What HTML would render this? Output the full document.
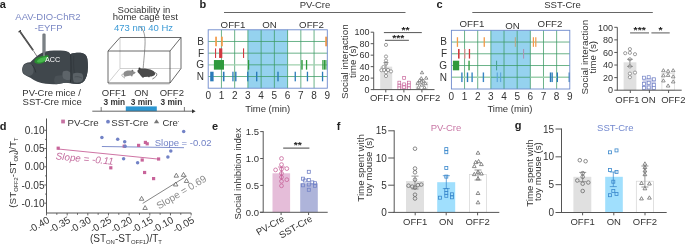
<!DOCTYPE html><html><head><meta charset="utf-8"><style>html,body{margin:0;padding:0;background:#fff;}svg{display:block;will-change:transform;}</style></head><body><svg xmlns="http://www.w3.org/2000/svg" width="685" height="245" viewBox="0 0 685 245" font-family='"Liberation Sans", sans-serif'>
<rect x="0" y="0" width="685" height="245" fill="#ffffff" />
<text x="-0.3" y="7.7" font-size="11" text-anchor="start" fill="#222" font-weight="bold" >a</text>
<text x="48" y="20.3" font-size="9.5" text-anchor="middle" fill="#7b88c4" font-weight="normal" >AAV-DIO-ChR2</text>
<text x="48.5" y="31.3" font-size="9.5" text-anchor="middle" fill="#7b88c4" font-weight="normal" >-EYFP</text>
<line x1="19.6" y1="31.1" x2="33.1" y2="50.3" stroke="#3a3a3a" stroke-width="1.7" />
<line x1="19.6" y1="31.1" x2="33.1" y2="50.3" stroke="#9a9a9a" stroke-width="0.7" stroke-dasharray="0.7 0.7"/>
<line x1="33.1" y1="50.3" x2="36.8" y2="56.1" stroke="#333" stroke-width="0.6" />
<line x1="18.4" y1="31.9" x2="20.8" y2="30.3" stroke="#222" stroke-width="1.0" />
<path d="M22.1,69.5 C22.3,66.5 23.5,64.2 25.2,63.4 C27,62.6 28.8,62.2 30.3,62.3 C31.5,61 33,59.5 34.4,58.3 C36,56.6 37.8,55.2 39.5,54.2 C41.5,52.9 43.5,52 45.6,51.5 C48.5,50.8 51,50.5 53.8,50.5 C57.5,50.4 61,50.5 64,50.7 C66,50.9 67.5,51.4 68.5,52.1 C69.4,52.8 70,53.5 70.5,54.2 C71.5,53.6 72.3,53.3 73.2,53.2 C75.5,52.9 78,52.8 80.3,52.8 C82.5,53 84.2,53.8 85.4,54.8 C86.5,56 87.1,57.6 87.4,59.3 C87.8,62 87.9,64.7 87.9,67.4 C87.8,70.2 87.4,73 86.8,75.6 C86.2,77.6 85.4,79.3 84.4,80.7 C83.2,82 81.8,82.9 80.3,83.4 C78.3,83.9 76.2,84 74.2,83.8 C71.5,83.4 68.8,82.9 66,82.8 C62.5,82.9 59.2,84.1 55.8,84.2 C52.4,84.3 49,84.2 45.6,83.8 C42.8,83.4 40,82.7 37.4,81.7 C35,80.6 32.6,79.2 30.3,77.7 C28.2,76.7 26,75.8 24.2,74.6 C22.9,73.6 22.1,72.2 22.1,69.5 Z" fill="#40474c"/>
<path d="M22.6,69.3 C22.8,66.6 24,64.6 25.6,63.9 C28,63 30.6,63.4 32,65.2 C33.5,67.5 34,70.5 33.2,73 C32.3,75.2 30,76.2 27.5,75.8 C25,75.2 22.8,73 22.6,69.3 Z" fill="#545b60"/>
<path d="M32.2,64.8 C34,67 35.2,69.5 35.8,72.5" fill="none" stroke="#2b3034" stroke-width="0.8"/>
<path d="M55.8,76 C60,75 65,75.2 69.8,76.5 L70.2,82.8 C68.8,82.9 67.4,82.8 66,82.8 C62.5,82.9 59.2,84.1 55.8,84.2 C53.5,82 53.8,78 55.8,76 Z" fill="#4a5156"/>
<path d="M70.5,54.2 C71.5,53.6 72.3,53.3 73.2,53.2 C75.5,52.9 78,52.8 80.3,52.8 C82.5,53 84.2,53.8 85.4,54.8 C86.5,56 87.1,57.6 87.4,59.3 C87.8,62 87.9,64.7 87.9,67.4 C87.8,70.2 87.4,73 86.8,75.6 C86.2,77.6 85.4,79.3 84.4,80.7 C83.2,82 81.8,82.9 80.3,83.4 C78.3,83.9 76.2,84 74.2,83.8 C72.6,83.6 71.4,83.2 70.2,82.9 C70.8,73 70.8,63 70.5,54.2 Z" fill="#3b4247"/>
<path d="M70.6,54.5 C71.2,63 71.2,73 70.4,82.6" fill="none" stroke="#2a3034" stroke-width="0.9"/>
<path d="M73.8,56 C73.4,62 73.6,68 74.4,73" fill="none" stroke="#30363a" stroke-width="0.6"/>
<path d="M73.2,73.5 C75.5,72.3 79,72.4 82,73.5 C83.6,75.5 83.5,78.5 82.3,81 C80,82.8 76.5,83 74,82.2 C72.8,79.8 72.6,76.3 73.2,73.5 Z" fill="#5a6166"/>
<path d="M74.5,77 C77,76.2 80,76.8 82,78.2" fill="none" stroke="#40474b" stroke-width="0.6"/>
<path d="M63,71.5 C65.5,70.2 68.8,70.6 70.2,72.5 L70.3,79.5 C68,80.5 65,80 63.2,78.2 C62.2,76 62.2,73.5 63,71.5 Z" fill="#5d6469"/>
<path d="M34.4,62.3 C34.4,60.8 34.8,59.8 35.4,58.9 C37.2,57.4 39.3,56.6 41.5,56.2 C43.6,55.7 45.6,55.2 47.7,55.2 C48.5,55.6 48.8,56.4 48.7,57.2 C48.2,59 47,60.4 45.6,61.3 C43.7,62.6 41.6,63.5 39.5,63.8 C37.6,63.9 35.8,63.4 34.4,62.3 Z" fill="#2b8d31"/>
<path d="M36.8,61.6 C37.6,59.6 39.6,58.4 42,57.7 C44,57.1 46,56.8 47.2,57.1 C47.2,58.6 46,59.9 44.4,60.9 C42.4,62 40.2,62.6 38.6,62.6 C37.8,62.5 37.2,62.2 36.8,61.6 Z" fill="#45b84b"/>
<rect x="42.4" y="33.4" width="3.2" height="20" rx="1.3" fill="#6c7277"/>
<rect x="43.5" y="34.5" width="1.0" height="18" fill="#878d92" />
<rect x="43.4" y="53.2" width="1.2" height="3" fill="#9aa0a5" />
<text x="45" y="61.7" font-size="7.2" text-anchor="start" fill="#ffffff" font-weight="normal" >ACC</text>
<text x="22.3" y="96.2" font-size="9.5" text-anchor="start" fill="#333333" font-weight="normal" >PV-Cre mice /</text>
<text x="22.6" y="104.5" font-size="9.5" text-anchor="start" fill="#333333" font-weight="normal" >SST-Cre mice</text>
<text x="144" y="12.7" font-size="9.5" text-anchor="middle" fill="#333333" font-weight="normal" >Sociability in</text>
<text x="145.3" y="20.4" font-size="9.5" text-anchor="middle" fill="#333333" font-weight="normal" >home cage test</text>
<text x="143.5" y="30.7" font-size="9.5" text-anchor="middle" fill="#3b9ad6" font-weight="normal" >473 nm 40 Hz</text>
<line x1="120" y1="37.5" x2="120" y2="68.5" stroke="#bbbbbb" stroke-width="0.7" />
<line x1="120" y1="68.5" x2="181" y2="68.5" stroke="#bbbbbb" stroke-width="0.7" />
<line x1="120" y1="68.5" x2="108" y2="83" stroke="#bbbbbb" stroke-width="0.7" />
<line x1="108.5" y1="84.3" x2="169.5" y2="84.3" stroke="#e2e2e2" stroke-width="1.4" />
<path d="M108,51 L120,37.5 L181,37.5 L181,68.5 L170,83 L108,83 Z" fill="none" stroke="#444444" stroke-width="0.8"/>
<path d="M108,51 L170,51 L181,37.5 M170,51 L170,83" fill="none" stroke="#444444" stroke-width="0.8"/>
<path d="M139.5,26.5 C144,29 145.5,36 145,45 C144.5,55 143.6,62 143.2,68.2" fill="none" stroke="#555" stroke-width="0.6"/>
<path d="M123.5,74.5 C123,72 125.5,70.4 129,70.4 C131,70.3 132.5,70.6 133.5,71.2 L135.8,72.5 C135,73.5 134,74 133,74.5 L132.2,76.6 L131.3,76.2 L130.6,75.5 C129,76 127,76 125.5,76.5 L124.6,77.2 L124.3,76 C123.8,75.6 123.5,75 123.5,74.5 Z" fill="#8c8c8c"/>
<path d="M123.6,74 C121.6,73.6 121.4,75.8 122.6,76.5 C123.6,77.1 124.4,77.6 125,78.2" fill="none" stroke="#8c8c8c" stroke-width="0.7"/>
<circle cx="132.4" cy="70.6" r="0.9" fill="#6e6e6e"/>
<path d="M137.5,70.5 C138.5,68.8 140,68.2 142,68.5 C146,68.5 150,69 152.5,70.5 C154.5,71.5 155.5,73 155,74.5 C154,76 152,76.5 150,76.5 L149,77.6 L148,76.8 L144,77 L143,77.9 L142,77 C140.5,75.5 139.5,74 138.5,73 C137.8,72.2 137.2,71.5 137.5,70.5 Z" fill="#4a4a4a"/>
<path d="M154.6,72.8 C156.8,72.4 157.4,74.6 156.3,76 C155.3,77.4 153.6,78.2 152.4,79" fill="none" stroke="#4a4a4a" stroke-width="0.7"/>
<circle cx="139.5" cy="68.6" r="1" fill="#333"/>
<text x="113.9" y="96.2" font-size="9.5" text-anchor="middle" fill="#333333" font-weight="normal" >OFF1</text>
<text x="141.3" y="96.2" font-size="9.5" text-anchor="middle" fill="#333333" font-weight="normal" >ON</text>
<text x="171.8" y="96.2" font-size="9.5" text-anchor="middle" fill="#333333" font-weight="normal" >OFF2</text>
<text x="114.35" y="105.2" font-size="8.3" text-anchor="middle" fill="#333333" font-weight="bold" >3 min</text>
<text x="141.6" y="105.2" font-size="8.3" text-anchor="middle" fill="#333333" font-weight="bold" >3 min</text>
<text x="171.4" y="105.2" font-size="8.3" text-anchor="middle" fill="#333333" font-weight="bold" >3 min</text>
<rect x="125.8" y="106.4" width="31" height="4.8" fill="#2b96d1" />
<line x1="92.3" y1="111.2" x2="193" y2="111.2" stroke="#555" stroke-width="0.9" />
<path d="M192,109.2 L195.6,111.2 L192,113.2 Z" fill="#333"/>
<line x1="101.2" y1="107" x2="101.2" y2="111.2" stroke="#555" stroke-width="0.8" />
<line x1="184.4" y1="107" x2="184.4" y2="111.2" stroke="#555" stroke-width="0.8" />
<text x="199.5" y="7.9" font-size="11" text-anchor="start" fill="#222" font-weight="bold" >b</text>
<line x1="224" y1="12.5" x2="405.5" y2="12.5" stroke="#666" stroke-width="1" />
<text x="315" y="7.9" font-size="9.5" text-anchor="middle" fill="#333333" font-weight="normal" >PV-Cre</text>
<rect x="247.9" y="29.8" width="39.70000000000002" height="58.400000000000006" fill="#95d2ef" />
<line x1="221.43333333333334" y1="29.8" x2="221.43333333333334" y2="88.2" stroke="#3a9a62" stroke-width="0.75" />
<line x1="234.66666666666666" y1="29.8" x2="234.66666666666666" y2="88.2" stroke="#3a9a62" stroke-width="0.75" />
<line x1="247.9" y1="29.8" x2="247.9" y2="88.2" stroke="#3a9a62" stroke-width="0.75" />
<line x1="261.1333333333333" y1="29.8" x2="261.1333333333333" y2="88.2" stroke="#3a9a62" stroke-width="0.75" />
<line x1="274.3666666666667" y1="29.8" x2="274.3666666666667" y2="88.2" stroke="#3a9a62" stroke-width="0.75" />
<line x1="287.6" y1="29.8" x2="287.6" y2="88.2" stroke="#3a9a62" stroke-width="0.75" />
<line x1="300.83333333333337" y1="29.8" x2="300.83333333333337" y2="88.2" stroke="#3a9a62" stroke-width="0.75" />
<line x1="314.06666666666666" y1="29.8" x2="314.06666666666666" y2="88.2" stroke="#3a9a62" stroke-width="0.75" />
<line x1="208.2" y1="41.480000000000004" x2="327.3" y2="41.480000000000004" stroke="#3a9a62" stroke-width="0.75" />
<line x1="208.2" y1="53.160000000000004" x2="327.3" y2="53.160000000000004" stroke="#3a9a62" stroke-width="0.75" />
<line x1="208.2" y1="64.84" x2="247.9" y2="64.84" stroke="#9fd0ad" stroke-width="1.4" />
<line x1="287.6" y1="64.84" x2="327.3" y2="64.84" stroke="#9fd0ad" stroke-width="1.4" />
<line x1="247.9" y1="64.84" x2="287.6" y2="64.84" stroke="#3a9a62" stroke-width="0.75" />
<line x1="208.2" y1="76.52000000000001" x2="327.3" y2="76.52000000000001" stroke="#3a9a62" stroke-width="0.75" />
<rect x="215.2" y="36.68000000000001" width="1.7" height="9.6" fill="#f39a48" />
<rect x="221.1" y="36.68000000000001" width="1.7" height="9.6" fill="#f39a48" />
<rect x="325.2" y="36.68000000000001" width="2.0" height="9.6" fill="#f39a48" />
<rect x="215.0" y="48.36000000000001" width="1.1" height="9.6" fill="#d13a40" />
<rect x="219.1" y="48.36000000000001" width="3.2" height="9.6" fill="#d13a40" />
<rect x="243.0" y="48.36000000000001" width="1.1" height="9.6" fill="#d13a40" />
<rect x="213.9" y="60.040000000000006" width="10.1" height="9.6" fill="#2e9a3c" />
<rect x="248.0" y="60.040000000000006" width="1.2" height="9.6" fill="#2e9a3c" />
<rect x="301.3" y="60.040000000000006" width="1.4" height="9.6" fill="#2e9a3c" />
<rect x="305.9" y="60.040000000000006" width="1.3" height="9.6" fill="#2e9a3c" />
<rect x="322.3" y="60.040000000000006" width="1.2" height="9.6" fill="#2e9a3c" />
<rect x="323.8" y="60.040000000000006" width="1.2" height="9.6" fill="#2e9a3c" />
<rect x="325.3" y="60.040000000000006" width="1.2" height="9.6" fill="#2e9a3c" />
<rect x="210.2" y="71.72000000000001" width="3.4" height="9.6" fill="#2a7bb9" />
<rect x="222.9" y="71.72000000000001" width="1.6" height="9.6" fill="#2a7bb9" />
<rect x="232.3" y="71.72000000000001" width="1.3" height="9.6" fill="#2a7bb9" />
<rect x="235.1" y="71.72000000000001" width="1.4" height="9.6" fill="#2a7bb9" />
<rect x="247.1" y="71.72000000000001" width="1.3" height="9.6" fill="#2a7bb9" />
<rect x="256.0" y="71.72000000000001" width="1.4" height="9.6" fill="#2a7bb9" />
<rect x="277.3" y="71.72000000000001" width="1.4" height="9.6" fill="#2a7bb9" />
<rect x="294.6" y="71.72000000000001" width="1.3" height="9.6" fill="#2a7bb9" />
<rect x="306.8" y="71.72000000000001" width="1.3" height="9.6" fill="#2a7bb9" />
<rect x="321.9" y="71.72000000000001" width="1.3" height="9.6" fill="#2a7bb9" />
<rect x="208.2" y="29.8" width="119.10000000000002" height="58.400000000000006" fill="none" stroke="#6d89cc" stroke-width="0.9"/>
<text x="204" y="44.88" font-size="10" text-anchor="end" fill="#333333" font-weight="normal" >B</text>
<text x="204" y="56.56" font-size="10" text-anchor="end" fill="#333333" font-weight="normal" >F</text>
<text x="204" y="68.24000000000001" font-size="10" text-anchor="end" fill="#333333" font-weight="normal" >G</text>
<text x="204" y="79.92000000000002" font-size="10" text-anchor="end" fill="#333333" font-weight="normal" >N</text>
<text x="208.2" y="98.8" font-size="10" text-anchor="middle" fill="#333333" font-weight="normal" >0</text>
<text x="221.43333333333334" y="98.8" font-size="10" text-anchor="middle" fill="#333333" font-weight="normal" >1</text>
<text x="234.66666666666666" y="98.8" font-size="10" text-anchor="middle" fill="#333333" font-weight="normal" >2</text>
<text x="247.9" y="98.8" font-size="10" text-anchor="middle" fill="#333333" font-weight="normal" >3</text>
<text x="261.1333333333333" y="98.8" font-size="10" text-anchor="middle" fill="#333333" font-weight="normal" >4</text>
<text x="274.3666666666667" y="98.8" font-size="10" text-anchor="middle" fill="#333333" font-weight="normal" >5</text>
<text x="287.6" y="98.8" font-size="10" text-anchor="middle" fill="#333333" font-weight="normal" >6</text>
<text x="300.83333333333337" y="98.8" font-size="10" text-anchor="middle" fill="#333333" font-weight="normal" >7</text>
<text x="314.06666666666666" y="98.8" font-size="10" text-anchor="middle" fill="#333333" font-weight="normal" >8</text>
<text x="327.3" y="98.8" font-size="10" text-anchor="middle" fill="#333333" font-weight="normal" >9</text>
<text x="233" y="27.7" font-size="9.7" text-anchor="middle" fill="#333333" font-weight="normal" >OFF1</text>
<text x="269.4" y="27.7" font-size="9.7" text-anchor="middle" fill="#333333" font-weight="normal" >ON</text>
<text x="311.5" y="27.7" font-size="9.7" text-anchor="middle" fill="#333333" font-weight="normal" >OFF2</text>
<text x="267.75" y="111.8" font-size="9.5" text-anchor="middle" fill="#333333" font-weight="normal" >Time (min)</text>
<text x="436.4" y="8.0" font-size="11" text-anchor="start" fill="#222" font-weight="bold" >c</text>
<line x1="472.3" y1="12.5" x2="652.8" y2="12.5" stroke="#666" stroke-width="1" />
<text x="562.5" y="7.9" font-size="9.5" text-anchor="middle" fill="#333333" font-weight="normal" >SST-Cre</text>
<rect x="490.8666666666666" y="30.3" width="39.46666666666664" height="58.7" fill="#95d2ef" />
<line x1="464.55555555555554" y1="30.3" x2="464.55555555555554" y2="89.0" stroke="#3a9a62" stroke-width="0.75" />
<line x1="477.7111111111111" y1="30.3" x2="477.7111111111111" y2="89.0" stroke="#3a9a62" stroke-width="0.75" />
<line x1="490.8666666666666" y1="30.3" x2="490.8666666666666" y2="89.0" stroke="#3a9a62" stroke-width="0.75" />
<line x1="504.0222222222222" y1="30.3" x2="504.0222222222222" y2="89.0" stroke="#3a9a62" stroke-width="0.75" />
<line x1="517.1777777777777" y1="30.3" x2="517.1777777777777" y2="89.0" stroke="#3a9a62" stroke-width="0.75" />
<line x1="530.3333333333333" y1="30.3" x2="530.3333333333333" y2="89.0" stroke="#3a9a62" stroke-width="0.75" />
<line x1="543.4888888888888" y1="30.3" x2="543.4888888888888" y2="89.0" stroke="#3a9a62" stroke-width="0.75" />
<line x1="556.6444444444444" y1="30.3" x2="556.6444444444444" y2="89.0" stroke="#3a9a62" stroke-width="0.75" />
<line x1="451.4" y1="42.04" x2="569.8" y2="42.04" stroke="#3a9a62" stroke-width="0.75" />
<line x1="451.4" y1="53.78" x2="569.8" y2="53.78" stroke="#3a9a62" stroke-width="0.75" />
<line x1="451.4" y1="65.52000000000001" x2="569.8" y2="65.52000000000001" stroke="#3a9a62" stroke-width="0.75" />
<line x1="451.4" y1="77.26" x2="490.8666666666666" y2="77.26" stroke="#9fd0ad" stroke-width="1.4" />
<line x1="530.3333333333333" y1="77.26" x2="569.8" y2="77.26" stroke="#9fd0ad" stroke-width="1.4" />
<line x1="490.8666666666666" y1="77.26" x2="530.3333333333333" y2="77.26" stroke="#3a9a62" stroke-width="0.75" />
<rect x="456.8" y="37.24" width="1.3" height="9.6" fill="#f39a48" />
<rect x="483.6" y="37.24" width="1.3" height="9.6" fill="#f39a48" />
<rect x="514.8" y="37.24" width="1.1" height="9.6" fill="#b8a888" />
<rect x="532.8" y="37.24" width="1.2" height="9.6" fill="#f39a48" />
<rect x="535.2" y="37.24" width="1.2" height="9.6" fill="#f39a48" />
<rect x="458.0" y="48.980000000000004" width="1.6" height="9.6" fill="#d13a40" />
<rect x="464.2" y="48.980000000000004" width="1.2" height="9.6" fill="#e0888c" />
<rect x="468.8" y="48.980000000000004" width="1.3" height="9.6" fill="#d13a40" />
<rect x="523.0" y="48.980000000000004" width="1.1" height="9.6" fill="#a994b4" />
<rect x="452.9" y="60.72000000000001" width="6.3" height="9.6" fill="#2e9a3c" />
<rect x="468.4" y="60.72000000000001" width="1.3" height="9.6" fill="#2e9a3c" />
<rect x="496.0" y="60.72000000000001" width="1.1" height="9.6" fill="#4aa396" />
<rect x="461.2" y="72.46000000000001" width="1.4" height="9.6" fill="#3a86c4" />
<rect x="466.8" y="72.46000000000001" width="1.4" height="9.6" fill="#2a7bb9" />
<rect x="471.4" y="72.46000000000001" width="1.4" height="9.6" fill="#3a86c4" />
<rect x="482.7" y="72.46000000000001" width="1.4" height="9.6" fill="#3a86c4" />
<rect x="496.7" y="72.46000000000001" width="1.1" height="9.6" fill="#5aa5d8" />
<rect x="500.1" y="72.46000000000001" width="1.1" height="9.6" fill="#5aa5d8" />
<rect x="549.8" y="72.46000000000001" width="1.4" height="9.6" fill="#2a7bb9" />
<rect x="551.5" y="72.46000000000001" width="1.3" height="9.6" fill="#2a7bb9" />
<rect x="556.7" y="72.46000000000001" width="1.3" height="9.6" fill="#2a7bb9" />
<rect x="568.6" y="72.46000000000001" width="1.2" height="9.6" fill="#2a7bb9" />
<rect x="451.4" y="30.3" width="118.39999999999998" height="58.7" fill="none" stroke="#6d89cc" stroke-width="0.9"/>
<text x="447" y="45.44" font-size="10" text-anchor="end" fill="#333333" font-weight="normal" >B</text>
<text x="447" y="57.18" font-size="10" text-anchor="end" fill="#333333" font-weight="normal" >F</text>
<text x="447" y="68.92000000000002" font-size="10" text-anchor="end" fill="#333333" font-weight="normal" >G</text>
<text x="447" y="80.66000000000001" font-size="10" text-anchor="end" fill="#333333" font-weight="normal" >N</text>
<text x="451.4" y="99.6" font-size="10" text-anchor="middle" fill="#333333" font-weight="normal" >0</text>
<text x="464.55555555555554" y="99.6" font-size="10" text-anchor="middle" fill="#333333" font-weight="normal" >1</text>
<text x="477.7111111111111" y="99.6" font-size="10" text-anchor="middle" fill="#333333" font-weight="normal" >2</text>
<text x="490.8666666666666" y="99.6" font-size="10" text-anchor="middle" fill="#333333" font-weight="normal" >3</text>
<text x="504.0222222222222" y="99.6" font-size="10" text-anchor="middle" fill="#333333" font-weight="normal" >4</text>
<text x="517.1777777777777" y="99.6" font-size="10" text-anchor="middle" fill="#333333" font-weight="normal" >5</text>
<text x="530.3333333333333" y="99.6" font-size="10" text-anchor="middle" fill="#333333" font-weight="normal" >6</text>
<text x="543.4888888888888" y="99.6" font-size="10" text-anchor="middle" fill="#333333" font-weight="normal" >7</text>
<text x="556.6444444444444" y="99.6" font-size="10" text-anchor="middle" fill="#333333" font-weight="normal" >8</text>
<text x="569.8" y="99.6" font-size="10" text-anchor="middle" fill="#333333" font-weight="normal" >9</text>
<text x="471.9" y="27.4" font-size="9.7" text-anchor="middle" fill="#333333" font-weight="normal" >OFF1</text>
<text x="512.4" y="28.6" font-size="9.7" text-anchor="middle" fill="#333333" font-weight="normal" >ON</text>
<text x="550" y="27.4" font-size="9.7" text-anchor="middle" fill="#333333" font-weight="normal" >OFF2</text>
<text x="509.9" y="111.8" font-size="9.5" text-anchor="middle" fill="#333333" font-weight="normal" >Time (min)</text>
<text transform="translate(347.6,61.7) rotate(-90)" font-size="9.8" text-anchor="middle" fill="#333333">Social interaction</text>
<text transform="translate(356.2,61.7) rotate(-90)" font-size="9.8" text-anchor="middle" fill="#333333">time (s)</text>
<rect x="380.2" y="66.64" width="12" height="22.959999999999994" fill="#e0e0e0" />
<rect x="398.6" y="83.86" width="11" height="5.739999999999995" fill="#f3d4e4" />
<rect x="416.2" y="82.13799999999999" width="11.5" height="7.462000000000003" fill="#fff" stroke="#d8d8d8" stroke-width="0.7"/>
<circle cx="386" cy="44.9" r="1.6" fill="#fff" stroke="#777" stroke-width="0.7"/>
<circle cx="386" cy="56.5" r="1.6" fill="#fff" stroke="#777" stroke-width="0.7"/>
<circle cx="386" cy="60.6" r="1.6" fill="#fff" stroke="#777" stroke-width="0.7"/>
<circle cx="386" cy="63.7" r="1.6" fill="#fff" stroke="#777" stroke-width="0.7"/>
<circle cx="381.4" cy="70.2" r="1.6" fill="#fff" stroke="#777" stroke-width="0.7"/>
<circle cx="384.2" cy="70.0" r="1.6" fill="#fff" stroke="#777" stroke-width="0.7"/>
<circle cx="388" cy="70.0" r="1.6" fill="#fff" stroke="#777" stroke-width="0.7"/>
<circle cx="391.0" cy="71.4" r="1.6" fill="#fff" stroke="#777" stroke-width="0.7"/>
<circle cx="386" cy="72.3" r="1.6" fill="#fff" stroke="#777" stroke-width="0.7"/>
<circle cx="386" cy="76.0" r="1.6" fill="#fff" stroke="#777" stroke-width="0.7"/>
<circle cx="383.5" cy="67.0" r="1.6" fill="#fff" stroke="#777" stroke-width="0.7"/>
<line x1="386" y1="62.5" x2="386" y2="71" stroke="#777" stroke-width="0.7" />
<line x1="383.5" y1="62.5" x2="388.5" y2="62.5" stroke="#777" stroke-width="0.7" />
<rect x="402.70000000000005" y="76.5" width="2.8" height="2.8" fill="#fff" stroke="#c8649a" stroke-width="0.7"/>
<rect x="397.90000000000003" y="81.19999999999999" width="2.8" height="2.8" fill="#fff" stroke="#c8649a" stroke-width="0.7"/>
<rect x="402.70000000000005" y="82.89999999999999" width="2.8" height="2.8" fill="#fff" stroke="#c8649a" stroke-width="0.7"/>
<rect x="407.5" y="81.19999999999999" width="2.8" height="2.8" fill="#fff" stroke="#c8649a" stroke-width="0.7"/>
<rect x="397.90000000000003" y="84.3" width="2.8" height="2.8" fill="#fff" stroke="#c8649a" stroke-width="0.7"/>
<rect x="407.5" y="84.0" width="2.8" height="2.8" fill="#fff" stroke="#c8649a" stroke-width="0.7"/>
<rect x="397.90000000000003" y="86.89999999999999" width="2.8" height="2.8" fill="#fff" stroke="#c8649a" stroke-width="0.7"/>
<rect x="402.70000000000005" y="85.89999999999999" width="2.8" height="2.8" fill="#fff" stroke="#c8649a" stroke-width="0.7"/>
<rect x="407.5" y="86.89999999999999" width="2.8" height="2.8" fill="#fff" stroke="#c8649a" stroke-width="0.7"/>
<path d="M422,70.83336 L423.7,73.77776 L420.3,73.77776 Z" fill="#fff" stroke="#666" stroke-width="0.7"/>
<path d="M426.2,76.23336 L427.9,79.17776 L424.5,79.17776 Z" fill="#fff" stroke="#666" stroke-width="0.7"/>
<path d="M421.3,76.63336000000001 L423.0,79.57776000000001 L419.6,79.57776000000001 Z" fill="#fff" stroke="#666" stroke-width="0.7"/>
<path d="M419.6,78.63336000000001 L421.3,81.57776000000001 L417.90000000000003,81.57776000000001 Z" fill="#fff" stroke="#666" stroke-width="0.7"/>
<path d="M423.4,79.23336 L425.09999999999997,82.17776 L421.7,82.17776 Z" fill="#fff" stroke="#666" stroke-width="0.7"/>
<path d="M417.8,81.43336000000001 L419.5,84.37776000000001 L416.1,84.37776000000001 Z" fill="#fff" stroke="#666" stroke-width="0.7"/>
<path d="M425.4,81.73336 L427.09999999999997,84.67776 L423.7,84.67776 Z" fill="#fff" stroke="#666" stroke-width="0.7"/>
<path d="M421.8,83.23336 L423.5,86.17776 L420.1,86.17776 Z" fill="#fff" stroke="#666" stroke-width="0.7"/>
<path d="M418.5,85.43336000000001 L420.2,88.37776000000001 L416.8,88.37776000000001 Z" fill="#fff" stroke="#666" stroke-width="0.7"/>
<path d="M424.5,85.73336 L426.2,88.67776 L422.8,88.67776 Z" fill="#fff" stroke="#666" stroke-width="0.7"/>
<path d="M421.5,80.23336 L423.2,83.17776 L419.8,83.17776 Z" fill="#fff" stroke="#666" stroke-width="0.7"/>
<line x1="373.7" y1="32.2" x2="373.7" y2="89.6" stroke="#555555" stroke-width="1" />
<line x1="370.7" y1="32.2" x2="373.7" y2="32.2" stroke="#555555" stroke-width="1" />
<text x="369.5" y="35.400000000000006" font-size="9" text-anchor="end" fill="#333333" font-weight="normal" >100</text>
<line x1="370.7" y1="43.68000000000001" x2="373.7" y2="43.68000000000001" stroke="#555555" stroke-width="1" />
<text x="369.5" y="46.88000000000001" font-size="9" text-anchor="end" fill="#333333" font-weight="normal" >80</text>
<line x1="370.7" y1="55.16" x2="373.7" y2="55.16" stroke="#555555" stroke-width="1" />
<text x="369.5" y="58.36" font-size="9" text-anchor="end" fill="#333333" font-weight="normal" >60</text>
<line x1="370.7" y1="66.64" x2="373.7" y2="66.64" stroke="#555555" stroke-width="1" />
<text x="369.5" y="69.84" font-size="9" text-anchor="end" fill="#333333" font-weight="normal" >40</text>
<line x1="370.7" y1="78.12" x2="373.7" y2="78.12" stroke="#555555" stroke-width="1" />
<text x="369.5" y="81.32000000000001" font-size="9" text-anchor="end" fill="#333333" font-weight="normal" >20</text>
<line x1="370.7" y1="89.6" x2="373.7" y2="89.6" stroke="#555555" stroke-width="1" />
<text x="369.5" y="92.8" font-size="9" text-anchor="end" fill="#333333" font-weight="normal" >0</text>
<line x1="373.2" y1="89.6" x2="434.5" y2="89.6" stroke="#555555" stroke-width="1" />
<line x1="385.8" y1="89.6" x2="385.8" y2="92.39999999999999" stroke="#555555" stroke-width="1" />
<line x1="403.9" y1="89.6" x2="403.9" y2="92.39999999999999" stroke="#555555" stroke-width="1" />
<line x1="421.9" y1="89.6" x2="421.9" y2="92.39999999999999" stroke="#555555" stroke-width="1" />
<text x="382.1" y="101.2" font-size="9.5" text-anchor="middle" fill="#333333" font-weight="normal" >OFF1</text>
<text x="403.4" y="101.2" font-size="9.5" text-anchor="middle" fill="#333333" font-weight="normal" >ON</text>
<text x="428.2" y="101.2" font-size="9.5" text-anchor="middle" fill="#333333" font-weight="normal" >OFF2</text>
<line x1="383.9" y1="32.6" x2="421.8" y2="32.6" stroke="#555" stroke-width="1" />
<text transform="translate(405.55,32.767264) scale(1,0.82)" font-size="10.4" text-anchor="middle" font-weight="bold" fill="#222">**</text>
<line x1="385" y1="40.3" x2="408.9" y2="40.3" stroke="#555" stroke-width="1" />
<text transform="translate(398.3,40.867264) scale(1,0.82)" font-size="10.4" text-anchor="middle" font-weight="bold" fill="#222">***</text>
<text transform="translate(587.6,57.2) rotate(-90)" font-size="9.8" text-anchor="middle" fill="#333333">Social interaction</text>
<text transform="translate(596.2,57.2) rotate(-90)" font-size="9.8" text-anchor="middle" fill="#333333">time (s)</text>
<rect x="623.6" y="62.3" width="12.8" height="27.900000000000006" fill="#e0e0e0" />
<rect x="642.6" y="77.7" width="13.2" height="12.5" fill="#cdd1ec" />
<rect x="661.9" y="73.6" width="12.7" height="16.60000000000001" fill="#fff" stroke="#d8d8d8" stroke-width="0.7"/>
<circle cx="629.9" cy="49.1" r="1.6" fill="#fff" stroke="#777" stroke-width="0.7"/>
<circle cx="625.2" cy="53.2" r="1.6" fill="#fff" stroke="#777" stroke-width="0.7"/>
<circle cx="629.9" cy="52.8" r="1.6" fill="#fff" stroke="#777" stroke-width="0.7"/>
<circle cx="635.0" cy="54.2" r="1.6" fill="#fff" stroke="#777" stroke-width="0.7"/>
<circle cx="629.9" cy="59.3" r="1.6" fill="#fff" stroke="#777" stroke-width="0.7"/>
<circle cx="629.9" cy="66.4" r="1.6" fill="#fff" stroke="#777" stroke-width="0.7"/>
<circle cx="635.0" cy="72.6" r="1.6" fill="#fff" stroke="#777" stroke-width="0.7"/>
<circle cx="629.9" cy="73.6" r="1.6" fill="#fff" stroke="#777" stroke-width="0.7"/>
<circle cx="629.9" cy="77.2" r="1.6" fill="#fff" stroke="#777" stroke-width="0.7"/>
<line x1="629.9" y1="59" x2="629.9" y2="66" stroke="#777" stroke-width="0.7" />
<line x1="627" y1="59.3" x2="633" y2="59.3" stroke="#777" stroke-width="0.7" />
<line x1="627" y1="66.4" x2="633" y2="66.4" stroke="#777" stroke-width="0.7" />
<rect x="642.5" y="76.2" width="3.0" height="3.0" fill="#fff" stroke="#7282c6" stroke-width="0.7"/>
<rect x="647.2" y="75.7" width="3.0" height="3.0" fill="#fff" stroke="#7282c6" stroke-width="0.7"/>
<rect x="652.3" y="77.8" width="3.0" height="3.0" fill="#fff" stroke="#7282c6" stroke-width="0.7"/>
<rect x="642.5" y="82.3" width="3.0" height="3.0" fill="#fff" stroke="#7282c6" stroke-width="0.7"/>
<rect x="647.2" y="81.3" width="3.0" height="3.0" fill="#fff" stroke="#7282c6" stroke-width="0.7"/>
<rect x="652.3" y="83.3" width="3.0" height="3.0" fill="#fff" stroke="#7282c6" stroke-width="0.7"/>
<rect x="642.5" y="86.4" width="3.0" height="3.0" fill="#fff" stroke="#7282c6" stroke-width="0.7"/>
<rect x="647.2" y="86.0" width="3.0" height="3.0" fill="#fff" stroke="#7282c6" stroke-width="0.7"/>
<rect x="652.3" y="86.4" width="3.0" height="3.0" fill="#fff" stroke="#7282c6" stroke-width="0.7"/>
<path d="M663.4,68.62944 L665.1999999999999,71.74704 L661.6,71.74704 Z" fill="#fff" stroke="#666" stroke-width="0.7"/>
<path d="M668.1,69.22944 L669.9,72.34703999999999 L666.3000000000001,72.34703999999999 Z" fill="#fff" stroke="#666" stroke-width="0.7"/>
<path d="M673.2,68.62944 L675.0,71.74704 L671.4000000000001,71.74704 Z" fill="#fff" stroke="#666" stroke-width="0.7"/>
<path d="M663.4,73.72944 L665.1999999999999,76.84703999999999 L661.6,76.84703999999999 Z" fill="#fff" stroke="#666" stroke-width="0.7"/>
<path d="M668.1,73.32944 L669.9,76.44704 L666.3000000000001,76.44704 Z" fill="#fff" stroke="#666" stroke-width="0.7"/>
<path d="M673.2,74.72944 L675.0,77.84703999999999 L671.4000000000001,77.84703999999999 Z" fill="#fff" stroke="#666" stroke-width="0.7"/>
<path d="M663.4,78.82944 L665.1999999999999,81.94704 L661.6,81.94704 Z" fill="#fff" stroke="#666" stroke-width="0.7"/>
<path d="M673.2,79.82944 L675.0,82.94704 L671.4000000000001,82.94704 Z" fill="#fff" stroke="#666" stroke-width="0.7"/>
<path d="M668.1,83.92944 L669.9,87.04704 L666.3000000000001,87.04704 Z" fill="#fff" stroke="#666" stroke-width="0.7"/>
<line x1="617.3" y1="27.3" x2="617.3" y2="90.2" stroke="#555555" stroke-width="1" />
<line x1="614.3" y1="27.299999999999997" x2="617.3" y2="27.299999999999997" stroke="#555555" stroke-width="1" />
<text x="613.0999999999999" y="30.499999999999996" font-size="9" text-anchor="end" fill="#333333" font-weight="normal" >100</text>
<line x1="614.3" y1="39.88" x2="617.3" y2="39.88" stroke="#555555" stroke-width="1" />
<text x="613.0999999999999" y="43.080000000000005" font-size="9" text-anchor="end" fill="#333333" font-weight="normal" >80</text>
<line x1="614.3" y1="52.46" x2="617.3" y2="52.46" stroke="#555555" stroke-width="1" />
<text x="613.0999999999999" y="55.660000000000004" font-size="9" text-anchor="end" fill="#333333" font-weight="normal" >60</text>
<line x1="614.3" y1="65.04" x2="617.3" y2="65.04" stroke="#555555" stroke-width="1" />
<text x="613.0999999999999" y="68.24000000000001" font-size="9" text-anchor="end" fill="#333333" font-weight="normal" >40</text>
<line x1="614.3" y1="77.62" x2="617.3" y2="77.62" stroke="#555555" stroke-width="1" />
<text x="613.0999999999999" y="80.82000000000001" font-size="9" text-anchor="end" fill="#333333" font-weight="normal" >20</text>
<line x1="614.3" y1="90.2" x2="617.3" y2="90.2" stroke="#555555" stroke-width="1" />
<text x="613.0999999999999" y="93.4" font-size="9" text-anchor="end" fill="#333333" font-weight="normal" >0</text>
<line x1="616.8" y1="90.2" x2="681.7" y2="90.2" stroke="#555555" stroke-width="1" />
<line x1="630.3" y1="90.2" x2="630.3" y2="93.0" stroke="#555555" stroke-width="1" />
<line x1="649.4" y1="90.2" x2="649.4" y2="93.0" stroke="#555555" stroke-width="1" />
<line x1="668.6" y1="90.2" x2="668.6" y2="93.0" stroke="#555555" stroke-width="1" />
<text x="627.5" y="102.5" font-size="9.5" text-anchor="middle" fill="#333333" font-weight="normal" >OFF1</text>
<text x="648.4" y="102.5" font-size="9.5" text-anchor="middle" fill="#333333" font-weight="normal" >ON</text>
<text x="673.3" y="102.5" font-size="9.5" text-anchor="middle" fill="#333333" font-weight="normal" >OFF2</text>
<line x1="630.1" y1="32.9" x2="649" y2="32.9" stroke="#666" stroke-width="1.1" />
<text transform="translate(639.65,32.867264) scale(1,0.82)" font-size="10.4" text-anchor="middle" font-weight="bold" fill="#222">***</text>
<line x1="651.4" y1="32.9" x2="669.7" y2="32.9" stroke="#666" stroke-width="1.1" />
<text transform="translate(660.55,32.867264) scale(1,0.82)" font-size="10.4" text-anchor="middle" font-weight="bold" fill="#222">*</text>
<text x="-0.3" y="130.1" font-size="11" text-anchor="start" fill="#222" font-weight="bold" >d</text>
<line x1="46.5" y1="118.5" x2="46.5" y2="213" stroke="#555555" stroke-width="1" />
<line x1="46.5" y1="213" x2="191.2" y2="213" stroke="#555555" stroke-width="1" />
<line x1="44.3" y1="203.19" x2="46.5" y2="203.19" stroke="#555555" stroke-width="0.9" />
<line x1="45.1" y1="194.08" x2="46.5" y2="194.08" stroke="#555555" stroke-width="0.9" />
<line x1="44.3" y1="184.97" x2="46.5" y2="184.97" stroke="#555555" stroke-width="0.9" />
<line x1="45.1" y1="175.86" x2="46.5" y2="175.86" stroke="#555555" stroke-width="0.9" />
<line x1="44.3" y1="166.75" x2="46.5" y2="166.75" stroke="#555555" stroke-width="0.9" />
<line x1="45.1" y1="157.64" x2="46.5" y2="157.64" stroke="#555555" stroke-width="0.9" />
<line x1="44.3" y1="148.53" x2="46.5" y2="148.53" stroke="#555555" stroke-width="0.9" />
<line x1="45.1" y1="139.42" x2="46.5" y2="139.42" stroke="#555555" stroke-width="0.9" />
<line x1="44.3" y1="130.31" x2="46.5" y2="130.31" stroke="#555555" stroke-width="0.9" />
<text x="44.5" y="133.91" font-size="10.1" text-anchor="end" fill="#333333" font-weight="normal" >0.10</text>
<text x="44.5" y="152.13" font-size="10.1" text-anchor="end" fill="#333333" font-weight="normal" >0.05</text>
<text x="44.5" y="170.35" font-size="10.1" text-anchor="end" fill="#333333" font-weight="normal" >0.00</text>
<text x="44.5" y="188.57" font-size="10.1" text-anchor="end" fill="#333333" font-weight="normal" >-0.05</text>
<text x="44.5" y="206.79" font-size="10.1" text-anchor="end" fill="#333333" font-weight="normal" >-0.10</text>
<line x1="46.5" y1="213" x2="46.5" y2="215.4" stroke="#555555" stroke-width="0.9" />
<line x1="56.83000000000001" y1="213" x2="56.83000000000001" y2="214.8" stroke="#555555" stroke-width="0.9" />
<line x1="67.16" y1="213" x2="67.16" y2="215.4" stroke="#555555" stroke-width="0.9" />
<line x1="77.49000000000001" y1="213" x2="77.49000000000001" y2="214.8" stroke="#555555" stroke-width="0.9" />
<line x1="87.82" y1="213" x2="87.82" y2="215.4" stroke="#555555" stroke-width="0.9" />
<line x1="98.15" y1="213" x2="98.15" y2="214.8" stroke="#555555" stroke-width="0.9" />
<line x1="108.48000000000002" y1="213" x2="108.48000000000002" y2="215.4" stroke="#555555" stroke-width="0.9" />
<line x1="118.81" y1="213" x2="118.81" y2="214.8" stroke="#555555" stroke-width="0.9" />
<line x1="129.14" y1="213" x2="129.14" y2="215.4" stroke="#555555" stroke-width="0.9" />
<line x1="139.47" y1="213" x2="139.47" y2="214.8" stroke="#555555" stroke-width="0.9" />
<line x1="149.8" y1="213" x2="149.8" y2="215.4" stroke="#555555" stroke-width="0.9" />
<line x1="160.13" y1="213" x2="160.13" y2="214.8" stroke="#555555" stroke-width="0.9" />
<line x1="170.46000000000004" y1="213" x2="170.46000000000004" y2="215.4" stroke="#555555" stroke-width="0.9" />
<line x1="180.79" y1="213" x2="180.79" y2="214.8" stroke="#555555" stroke-width="0.9" />
<line x1="191.12" y1="213" x2="191.12" y2="215.4" stroke="#555555" stroke-width="0.9" />
<text transform="translate(50.4,221.9) rotate(-30)" font-size="10" text-anchor="end" fill="#333333">-0.40</text>
<text transform="translate(71.06,221.9) rotate(-30)" font-size="10" text-anchor="end" fill="#333333">-0.35</text>
<text transform="translate(91.72,221.9) rotate(-30)" font-size="10" text-anchor="end" fill="#333333">-0.30</text>
<text transform="translate(112.38000000000002,221.9) rotate(-30)" font-size="10" text-anchor="end" fill="#333333">-0.25</text>
<text transform="translate(133.04,221.9) rotate(-30)" font-size="10" text-anchor="end" fill="#333333">-0.20</text>
<text transform="translate(153.70000000000002,221.9) rotate(-30)" font-size="10" text-anchor="end" fill="#333333">-0.15</text>
<text transform="translate(174.36000000000004,221.9) rotate(-30)" font-size="10" text-anchor="end" fill="#333333">-0.10</text>
<text transform="translate(195.02,221.9) rotate(-30)" font-size="10" text-anchor="end" fill="#333333">-0.05</text>
<text transform="translate(15.6,172.6) rotate(-90)" font-size="9.8" text-anchor="middle" fill="#333333">(ST<tspan font-size="5.7" dy="2">OFF2</tspan><tspan dy="-2">-ST</tspan><tspan font-size="5.7" dy="2">ON</tspan><tspan dy="-2">)/T</tspan><tspan font-size="5.7" dy="2">T</tspan></text>
<text x="125.9" y="242.1" font-size="10" text-anchor="middle" fill="#333333">(ST<tspan font-size="5.9" dy="2">ON</tspan><tspan dy="-2">-ST</tspan><tspan font-size="5.9" dy="2">OFF1</tspan><tspan dy="-2">)/T</tspan><tspan font-size="5.9" dy="2">T</tspan></text>
<rect x="61.2" y="119.6" width="3.7" height="3.8" fill="#c572a2" />
<text x="67.5" y="125.8" font-size="9.7" text-anchor="start" fill="#333333" font-weight="normal" >PV-Cre</text>
<circle cx="108" cy="121.7" r="1.9" fill="#7282c6"/>
<text x="111.2" y="125.8" font-size="9.7" text-anchor="start" fill="#333333" font-weight="normal" >SST-Cre</text>
<path d="M156.5,119.3 L159.2,123.3 L153.9,123.3 Z" fill="#777"/>
<text x="162.4" y="125.9" font-size="9.5" text-anchor="start" fill="#333333" font-weight="normal" >Cre</text>
<circle cx="178.4" cy="121.5" r="0.5" fill="#666"/>
<line x1="58.1" y1="149.0" x2="159.4" y2="159.2" stroke="#c8649a" stroke-width="0.9" />
<line x1="101.9" y1="146.5" x2="184" y2="147.7" stroke="#7282c6" stroke-width="0.9" />
<line x1="142.7" y1="203.4" x2="186.5" y2="176.2" stroke="#777" stroke-width="0.9" />
<text transform="translate(55.6,159.3) rotate(5.5)" font-size="9.8" fill="#c46c9e" font-style="italic">Slope = -0.11</text>
<text x="154.7" y="146.2" font-size="9.5" text-anchor="start" fill="#7282c6" font-weight="normal" >Slope = -0.02</text>
<text transform="translate(158.9,209.6) rotate(-31)" font-size="10" fill="#8a8a8a">Slope = 0.69</text>
<rect x="56.6" y="146.6" width="3.2" height="3.2" fill="#c8649a" />
<rect x="122.60000000000001" y="144.6" width="3.2" height="3.2" fill="#c8649a" />
<rect x="137.0" y="143.8" width="3.2" height="3.2" fill="#c8649a" />
<rect x="143.8" y="140.8" width="3.2" height="3.2" fill="#c8649a" />
<rect x="145.6" y="142.20000000000002" width="3.2" height="3.2" fill="#c8649a" />
<rect x="140.6" y="158.4" width="3.2" height="3.2" fill="#c8649a" />
<rect x="157.0" y="157.4" width="3.2" height="3.2" fill="#c8649a" />
<rect x="109.2" y="166.20000000000002" width="3.2" height="3.2" fill="#c8649a" />
<rect x="143.0" y="170.9" width="3.2" height="3.2" fill="#c8649a" />
<rect x="152.0" y="177.0" width="3.2" height="3.2" fill="#c8649a" />
<circle cx="101.9" cy="137.6" r="1.75" fill="#7282c6"/>
<circle cx="117.7" cy="139.2" r="1.75" fill="#7282c6"/>
<circle cx="124.7" cy="141.8" r="1.75" fill="#7282c6"/>
<circle cx="125.1" cy="146.2" r="1.75" fill="#7282c6"/>
<circle cx="123.6" cy="158.8" r="1.75" fill="#7282c6"/>
<circle cx="137.6" cy="162.8" r="1.75" fill="#7282c6"/>
<circle cx="183.7" cy="131.5" r="1.75" fill="#7282c6"/>
<circle cx="170.8" cy="150.9" r="1.75" fill="#7282c6"/>
<circle cx="167.9" cy="156.9" r="1.75" fill="#7282c6"/>
<path d="M141.6,196.3618 L143.85,200.25879999999998 L139.35,200.25879999999998 Z" fill="#fff" stroke="#5a5a5a" stroke-width="0.75"/>
<path d="M145.1,205.5618 L147.35,209.4588 L142.85,209.4588 Z" fill="#fff" stroke="#5a5a5a" stroke-width="0.75"/>
<path d="M175.7,182.0618 L177.95,185.9588 L173.45,185.9588 Z" fill="#fff" stroke="#5a5a5a" stroke-width="0.75"/>
<path d="M176.3,173.2618 L178.55,177.15879999999999 L174.05,177.15879999999999 Z" fill="#fff" stroke="#5a5a5a" stroke-width="0.75"/>
<path d="M183.5,172.4618 L185.75,176.3588 L181.25,176.3588 Z" fill="#fff" stroke="#5a5a5a" stroke-width="0.75"/>
<path d="M186.5,178.5618 L188.75,182.4588 L184.25,182.4588 Z" fill="#fff" stroke="#5a5a5a" stroke-width="0.75"/>
<text x="212.1" y="130.2" font-size="11" text-anchor="start" fill="#222" font-weight="bold" >e</text>
<text transform="translate(241,173.8) rotate(-90)" font-size="9.5" text-anchor="middle" fill="#333333">Social inhibition index</text>
<rect x="272.5" y="173.3" width="17.6" height="39.0" fill="#e5bdd9" />
<rect x="300.2" y="183.3" width="17.6" height="29.0" fill="#aeb4da" />
<circle cx="281.5" cy="158.5" r="1.9" fill="none" stroke="#c8649a" stroke-width="0.8"/>
<circle cx="281.5" cy="164.6" r="1.9" fill="none" stroke="#c8649a" stroke-width="0.8"/>
<circle cx="275.6" cy="169.9" r="1.9" fill="none" stroke="#c8649a" stroke-width="0.8"/>
<circle cx="281.5" cy="169.1" r="1.9" fill="none" stroke="#c8649a" stroke-width="0.8"/>
<circle cx="286.8" cy="168.6" r="1.9" fill="none" stroke="#c8649a" stroke-width="0.8"/>
<circle cx="281.5" cy="173.4" r="1.9" fill="none" stroke="#c8649a" stroke-width="0.8"/>
<circle cx="281.5" cy="177.1" r="1.9" fill="none" stroke="#c8649a" stroke-width="0.8"/>
<circle cx="286.8" cy="179.7" r="1.9" fill="none" stroke="#c8649a" stroke-width="0.8"/>
<circle cx="281.5" cy="181.3" r="1.9" fill="none" stroke="#c8649a" stroke-width="0.8"/>
<circle cx="281.5" cy="185.8" r="1.9" fill="none" stroke="#c8649a" stroke-width="0.8"/>
<line x1="281.5" y1="167" x2="281.5" y2="180" stroke="#c8649a" stroke-width="0.8" />
<line x1="278" y1="167" x2="285" y2="167" stroke="#c8649a" stroke-width="0.8" />
<rect x="307.3" y="170.3" width="3.0" height="3.0" fill="none" stroke="#7282c6" stroke-width="0.8"/>
<rect x="301.5" y="177.2" width="3.0" height="3.0" fill="none" stroke="#7282c6" stroke-width="0.8"/>
<rect x="303.3" y="179.0" width="3.0" height="3.0" fill="none" stroke="#7282c6" stroke-width="0.8"/>
<rect x="307.3" y="178.5" width="3.0" height="3.0" fill="none" stroke="#7282c6" stroke-width="0.8"/>
<rect x="310.8" y="180.9" width="3.0" height="3.0" fill="none" stroke="#7282c6" stroke-width="0.8"/>
<rect x="313.4" y="181.7" width="3.0" height="3.0" fill="none" stroke="#7282c6" stroke-width="0.8"/>
<rect x="301.5" y="183.8" width="3.0" height="3.0" fill="none" stroke="#7282c6" stroke-width="0.8"/>
<rect x="307.3" y="183.0" width="3.0" height="3.0" fill="none" stroke="#7282c6" stroke-width="0.8"/>
<rect x="313.4" y="184.3" width="3.0" height="3.0" fill="none" stroke="#7282c6" stroke-width="0.8"/>
<rect x="307.3" y="188.3" width="3.0" height="3.0" fill="none" stroke="#7282c6" stroke-width="0.8"/>
<line x1="263.2" y1="131.2" x2="263.2" y2="212.3" stroke="#555555" stroke-width="1" />
<line x1="260.2" y1="131.60000000000002" x2="263.2" y2="131.60000000000002" stroke="#555555" stroke-width="1" />
<text x="259.0" y="134.90000000000003" font-size="9.5" text-anchor="end" fill="#333333" font-weight="normal" >1.5</text>
<line x1="260.2" y1="158.5" x2="263.2" y2="158.5" stroke="#555555" stroke-width="1" />
<text x="259.0" y="161.8" font-size="9.5" text-anchor="end" fill="#333333" font-weight="normal" >1.0</text>
<line x1="260.2" y1="185.4" x2="263.2" y2="185.4" stroke="#555555" stroke-width="1" />
<text x="259.0" y="188.70000000000002" font-size="9.5" text-anchor="end" fill="#333333" font-weight="normal" >0.5</text>
<line x1="260.2" y1="212.3" x2="263.2" y2="212.3" stroke="#555555" stroke-width="1" />
<text x="259.0" y="215.60000000000002" font-size="9.5" text-anchor="end" fill="#333333" font-weight="normal" >0.0</text>
<line x1="259.9" y1="212.3" x2="327.7" y2="212.3" stroke="#555555" stroke-width="1" />
<line x1="281.1" y1="212.3" x2="281.1" y2="215" stroke="#555555" stroke-width="1" />
<line x1="308.6" y1="212.3" x2="308.6" y2="215" stroke="#555555" stroke-width="1" />
<text transform="translate(285,220.5) rotate(-30)" font-size="9.5" text-anchor="end" fill="#333333">PV-Cre</text>
<text transform="translate(313,220.5) rotate(-30)" font-size="9.5" text-anchor="end" fill="#333333">SST-Cre</text>
<line x1="283.2" y1="148.1" x2="309.4" y2="148.1" stroke="#444" stroke-width="1" />
<text transform="translate(297.75,147.767264) scale(1,0.82)" font-size="10.4" text-anchor="middle" font-weight="bold" fill="#222">**</text>
<text x="336.7" y="130.3" font-size="11" text-anchor="start" fill="#222" font-weight="bold" >f</text>
<text transform="translate(363.8,167.9) rotate(-90)" font-size="9.7" text-anchor="middle" fill="#333333">Time spent with</text>
<text transform="translate(372.2,166.9) rotate(-90)" font-size="9.7" text-anchor="middle" fill="#333333">toy mouse (s)</text>
<text x="446" y="130.7" font-size="9.5" text-anchor="middle" fill="#c978a6" font-weight="normal" >PV-Cre</text>
<rect x="406.0" y="181.0" width="18.0" height="31.400000000000006" fill="#e0e0e0" />
<rect x="437.2" y="182.2" width="18.0" height="30.200000000000017" fill="#a0dffd" />
<rect x="469.6" y="174.6" width="17.0" height="37.80000000000001" fill="#fff" stroke="#d4d4d4" stroke-width="0.7"/>
<circle cx="415" cy="148.7" r="1.8" fill="none" stroke="#666" stroke-width="0.75"/>
<circle cx="415" cy="168.5" r="1.8" fill="none" stroke="#666" stroke-width="0.75"/>
<circle cx="415" cy="172.3" r="1.8" fill="none" stroke="#666" stroke-width="0.75"/>
<circle cx="415" cy="179.7" r="1.8" fill="none" stroke="#666" stroke-width="0.75"/>
<circle cx="408.5" cy="185.7" r="1.8" fill="none" stroke="#666" stroke-width="0.75"/>
<circle cx="412.3" cy="186.6" r="1.8" fill="none" stroke="#666" stroke-width="0.75"/>
<circle cx="417.9" cy="185.1" r="1.8" fill="none" stroke="#666" stroke-width="0.75"/>
<circle cx="421.3" cy="184.6" r="1.8" fill="none" stroke="#666" stroke-width="0.75"/>
<circle cx="415" cy="187.6" r="1.8" fill="none" stroke="#666" stroke-width="0.75"/>
<circle cx="415" cy="194.7" r="1.8" fill="none" stroke="#666" stroke-width="0.75"/>
<circle cx="415" cy="198.5" r="1.8" fill="none" stroke="#666" stroke-width="0.75"/>
<line x1="415" y1="176.1" x2="415" y2="189" stroke="#777" stroke-width="0.75" />
<line x1="411.5" y1="176.1" x2="418.5" y2="176.1" stroke="#777" stroke-width="0.75" />
<line x1="411.5" y1="189" x2="418.5" y2="189" stroke="#777" stroke-width="0.75" />
<rect x="444.8" y="147.6" width="3.0" height="3.0" fill="none" stroke="#3a88cc" stroke-width="0.8"/>
<rect x="444.8" y="150.7" width="3.0" height="3.0" fill="none" stroke="#3a88cc" stroke-width="0.8"/>
<rect x="444.8" y="166.5" width="3.0" height="3.0" fill="none" stroke="#3a88cc" stroke-width="0.8"/>
<rect x="444.8" y="175.1" width="3.0" height="3.0" fill="none" stroke="#3a88cc" stroke-width="0.8"/>
<rect x="444.8" y="188.5" width="3.0" height="3.0" fill="none" stroke="#3a88cc" stroke-width="0.8"/>
<rect x="444.8" y="191.4" width="3.0" height="3.0" fill="none" stroke="#3a88cc" stroke-width="0.8"/>
<rect x="444.8" y="194.3" width="3.0" height="3.0" fill="none" stroke="#3a88cc" stroke-width="0.8"/>
<rect x="438.5" y="196.2" width="3.0" height="3.0" fill="none" stroke="#3a88cc" stroke-width="0.8"/>
<rect x="450.5" y="192.8" width="3.0" height="3.0" fill="none" stroke="#3a88cc" stroke-width="0.8"/>
<rect x="450.5" y="195.8" width="3.0" height="3.0" fill="none" stroke="#3a88cc" stroke-width="0.8"/>
<line x1="446.3" y1="175.7" x2="446.3" y2="188.6" stroke="#3a88cc" stroke-width="0.75" />
<line x1="442.8" y1="175.7" x2="449.8" y2="175.7" stroke="#3a88cc" stroke-width="0.75" />
<line x1="442.8" y1="188.6" x2="449.8" y2="188.6" stroke="#3a88cc" stroke-width="0.75" />
<path d="M478,150.92552 L479.9,154.21632 L476.1,154.21632 Z" fill="none" stroke="#666" stroke-width="0.75"/>
<path d="M475.7,160.32552 L477.59999999999997,163.61632 L473.8,163.61632 Z" fill="none" stroke="#666" stroke-width="0.75"/>
<path d="M478.6,159.42552 L480.5,162.71632 L476.70000000000005,162.71632 Z" fill="none" stroke="#666" stroke-width="0.75"/>
<path d="M481.4,162.32552 L483.29999999999995,165.61632 L479.5,165.61632 Z" fill="none" stroke="#666" stroke-width="0.75"/>
<path d="M474.3,164.32552 L476.2,167.61632 L472.40000000000003,167.61632 Z" fill="none" stroke="#666" stroke-width="0.75"/>
<path d="M478,170.02552 L479.9,173.31632 L476.1,173.31632 Z" fill="none" stroke="#666" stroke-width="0.75"/>
<path d="M474.3,172.32552 L476.2,175.61632 L472.40000000000003,175.61632 Z" fill="none" stroke="#666" stroke-width="0.75"/>
<path d="M481.4,171.72552 L483.29999999999995,175.01631999999998 L479.5,175.01631999999998 Z" fill="none" stroke="#666" stroke-width="0.75"/>
<path d="M478,176.62552 L479.9,179.91631999999998 L476.1,179.91631999999998 Z" fill="none" stroke="#666" stroke-width="0.75"/>
<path d="M478,191.22552 L479.9,194.51631999999998 L476.1,194.51631999999998 Z" fill="none" stroke="#666" stroke-width="0.75"/>
<path d="M478,200.52552 L479.9,203.81632 L476.1,203.81632 Z" fill="none" stroke="#666" stroke-width="0.75"/>
<line x1="478" y1="170" x2="478" y2="180" stroke="#777" stroke-width="0.75" />
<line x1="474.5" y1="170" x2="481.5" y2="170" stroke="#777" stroke-width="0.75" />
<line x1="474.5" y1="180" x2="481.5" y2="180" stroke="#777" stroke-width="0.75" />
<line x1="394.2" y1="130.3" x2="394.2" y2="212.4" stroke="#555555" stroke-width="1" />
<line x1="388.2" y1="130.8" x2="394.2" y2="130.8" stroke="#555555" stroke-width="1" />
<text x="386.8" y="134.3" font-size="10" text-anchor="end" fill="#333333" font-weight="normal" >15</text>
<line x1="388.2" y1="158.0" x2="394.2" y2="158.0" stroke="#555555" stroke-width="1" />
<text x="386.8" y="161.5" font-size="10" text-anchor="end" fill="#333333" font-weight="normal" >10</text>
<line x1="388.2" y1="185.20000000000002" x2="394.2" y2="185.20000000000002" stroke="#555555" stroke-width="1" />
<text x="386.8" y="188.70000000000002" font-size="10" text-anchor="end" fill="#333333" font-weight="normal" >5</text>
<line x1="388.2" y1="212.4" x2="394.2" y2="212.4" stroke="#555555" stroke-width="1" />
<text x="386.8" y="215.9" font-size="10" text-anchor="end" fill="#333333" font-weight="normal" >0</text>
<line x1="392.9" y1="212.4" x2="499.3" y2="212.4" stroke="#555555" stroke-width="1" />
<line x1="415.2" y1="212.2" x2="415.2" y2="215.3" stroke="#555555" stroke-width="1" />
<text x="415.2" y="224.8" font-size="9.5" text-anchor="middle" fill="#333333" font-weight="normal" >OFF1</text>
<line x1="446.2" y1="212.2" x2="446.2" y2="215.3" stroke="#555555" stroke-width="1" />
<text x="446.2" y="224.8" font-size="9.5" text-anchor="middle" fill="#333333" font-weight="normal" >ON</text>
<line x1="477.6" y1="212.2" x2="477.6" y2="215.3" stroke="#555555" stroke-width="1" />
<text x="477.6" y="224.8" font-size="9.5" text-anchor="middle" fill="#333333" font-weight="normal" >OFF2</text>
<text x="514.7" y="128.8" font-size="11" text-anchor="start" fill="#222" font-weight="bold" >g</text>
<text transform="translate(533.3,173.0) rotate(-90)" font-size="9.7" text-anchor="middle" fill="#333333">Time spent with</text>
<text transform="translate(540.5,171.6) rotate(-90)" font-size="9.7" text-anchor="middle" fill="#333333">toy mouse (s)</text>
<text x="615.3" y="130.7" font-size="9.5" text-anchor="middle" fill="#7389cf" font-weight="normal" >SST-Cre</text>
<rect x="573.4" y="176.8" width="17.9" height="35.69999999999999" fill="#e0e0e0" />
<rect x="605.2" y="176.8" width="17.6" height="35.69999999999999" fill="#a0dffd" />
<rect x="636.3" y="181.2" width="17.3" height="31.30000000000001" fill="#fff" stroke="#d4d4d4" stroke-width="0.7"/>
<circle cx="579.8" cy="160.2" r="1.8" fill="none" stroke="#666" stroke-width="0.75"/>
<circle cx="585.6" cy="161.2" r="1.8" fill="none" stroke="#666" stroke-width="0.75"/>
<circle cx="582.7" cy="173.2" r="1.8" fill="none" stroke="#666" stroke-width="0.75"/>
<circle cx="582.7" cy="176.8" r="1.8" fill="none" stroke="#666" stroke-width="0.75"/>
<circle cx="577.3" cy="180.5" r="1.8" fill="none" stroke="#666" stroke-width="0.75"/>
<circle cx="582.7" cy="183.7" r="1.8" fill="none" stroke="#666" stroke-width="0.75"/>
<circle cx="588.3" cy="182.5" r="1.8" fill="none" stroke="#666" stroke-width="0.75"/>
<circle cx="582.7" cy="191" r="1.8" fill="none" stroke="#666" stroke-width="0.75"/>
<line x1="582.7" y1="172.4" x2="582.7" y2="181.7" stroke="#777" stroke-width="0.75" />
<line x1="579.2" y1="172.4" x2="586.2" y2="172.4" stroke="#777" stroke-width="0.75" />
<line x1="579.2" y1="181.7" x2="586.2" y2="181.7" stroke="#777" stroke-width="0.75" />
<rect x="608.6" y="150.8" width="3.0" height="3.0" fill="none" stroke="#3a88cc" stroke-width="0.8"/>
<rect x="615.0" y="148.9" width="3.0" height="3.0" fill="none" stroke="#3a88cc" stroke-width="0.8"/>
<rect x="608.6" y="168.5" width="3.0" height="3.0" fill="none" stroke="#3a88cc" stroke-width="0.8"/>
<rect x="615.0" y="170.4" width="3.0" height="3.0" fill="none" stroke="#3a88cc" stroke-width="0.8"/>
<rect x="611.8" y="180.2" width="3.0" height="3.0" fill="none" stroke="#3a88cc" stroke-width="0.8"/>
<rect x="611.8" y="189.5" width="3.0" height="3.0" fill="none" stroke="#3a88cc" stroke-width="0.8"/>
<rect x="608.6" y="193.7" width="3.0" height="3.0" fill="none" stroke="#3a88cc" stroke-width="0.8"/>
<rect x="615.0" y="192.5" width="3.0" height="3.0" fill="none" stroke="#3a88cc" stroke-width="0.8"/>
<line x1="613.3" y1="172" x2="613.3" y2="186.6" stroke="#3a88cc" stroke-width="0.75" />
<line x1="609.8" y1="172" x2="616.8" y2="172" stroke="#3a88cc" stroke-width="0.75" />
<line x1="609.8" y1="186.6" x2="616.8" y2="186.6" stroke="#3a88cc" stroke-width="0.75" />
<path d="M644.9,161.82552 L646.8,165.11632 L643.0,165.11632 Z" fill="none" stroke="#666" stroke-width="0.75"/>
<path d="M644.9,165.32552 L646.8,168.61632 L643.0,168.61632 Z" fill="none" stroke="#666" stroke-width="0.75"/>
<path d="M644.9,168.72552 L646.8,172.01631999999998 L643.0,172.01631999999998 Z" fill="none" stroke="#666" stroke-width="0.75"/>
<path d="M644.9,172.42552 L646.8,175.71632 L643.0,175.71632 Z" fill="none" stroke="#666" stroke-width="0.75"/>
<path d="M641.5,181.22552 L643.4,184.51631999999998 L639.6,184.51631999999998 Z" fill="none" stroke="#666" stroke-width="0.75"/>
<path d="M649.4,181.72552 L651.3,185.01631999999998 L647.5,185.01631999999998 Z" fill="none" stroke="#666" stroke-width="0.75"/>
<path d="M644.9,186.52552 L646.8,189.81632 L643.0,189.81632 Z" fill="none" stroke="#666" stroke-width="0.75"/>
<path d="M641.5,196.62552 L643.4,199.91631999999998 L639.6,199.91631999999998 Z" fill="none" stroke="#666" stroke-width="0.75"/>
<path d="M649.4,195.82552 L651.3,199.11632 L647.5,199.11632 Z" fill="none" stroke="#666" stroke-width="0.75"/>
<line x1="644.9" y1="166" x2="644.9" y2="187" stroke="#777" stroke-width="0.75" />
<line x1="641.4" y1="166" x2="648.4" y2="166" stroke="#777" stroke-width="0.75" />
<line x1="641.4" y1="187" x2="648.4" y2="187" stroke="#777" stroke-width="0.75" />
<line x1="561.5" y1="128.5" x2="561.5" y2="212.5" stroke="#555555" stroke-width="1" />
<line x1="555.5" y1="129.0" x2="561.5" y2="129.0" stroke="#555555" stroke-width="1" />
<text x="554.1" y="132.5" font-size="10" text-anchor="end" fill="#333333" font-weight="normal" >15</text>
<line x1="555.5" y1="156.83333333333334" x2="561.5" y2="156.83333333333334" stroke="#555555" stroke-width="1" />
<text x="554.1" y="160.33333333333334" font-size="10" text-anchor="end" fill="#333333" font-weight="normal" >10</text>
<line x1="555.5" y1="184.66666666666666" x2="561.5" y2="184.66666666666666" stroke="#555555" stroke-width="1" />
<text x="554.1" y="188.16666666666666" font-size="10" text-anchor="end" fill="#333333" font-weight="normal" >5</text>
<line x1="555.5" y1="212.5" x2="561.5" y2="212.5" stroke="#555555" stroke-width="1" />
<text x="554.1" y="216.0" font-size="10" text-anchor="end" fill="#333333" font-weight="normal" >0</text>
<line x1="560.2" y1="212.5" x2="666.7" y2="212.5" stroke="#555555" stroke-width="1" />
<line x1="582.6" y1="212.2" x2="582.6" y2="215.3" stroke="#555555" stroke-width="1" />
<text x="582.6" y="224.8" font-size="9.5" text-anchor="middle" fill="#333333" font-weight="normal" >OFF1</text>
<line x1="613.8" y1="212.2" x2="613.8" y2="215.3" stroke="#555555" stroke-width="1" />
<text x="613.8" y="224.8" font-size="9.5" text-anchor="middle" fill="#333333" font-weight="normal" >ON</text>
<line x1="645" y1="212.2" x2="645" y2="215.3" stroke="#555555" stroke-width="1" />
<text x="645" y="224.8" font-size="9.5" text-anchor="middle" fill="#333333" font-weight="normal" >OFF2</text>
</svg></body></html>
